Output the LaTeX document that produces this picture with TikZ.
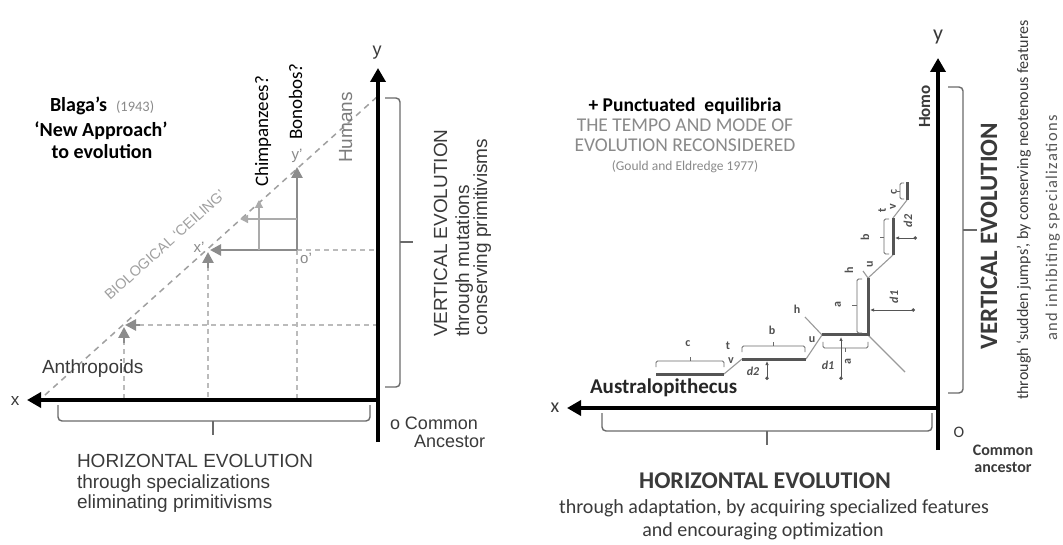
\documentclass[tikz,border=0pt]{standalone}
\usepackage{fontspec}
\setmainfont{Liberation Sans}
\newfontfamily\ls{Liberation Sans}
\newfontfamily\cb{Carlito}
\usetikzlibrary{arrows.meta}
\definecolor{cText}{HTML}{3A3A3A}
\definecolor{cGrayText}{HTML}{8A8A8A}
\definecolor{cCeil}{HTML}{A0A0A0}
\definecolor{cGrid}{HTML}{BBBBBB}
\definecolor{cArrow}{HTML}{8C8C8C}
\definecolor{cLight}{HTML}{ABABAB}
\definecolor{cStair}{HTML}{555555}
\definecolor{cThinLine}{HTML}{9A9A9A}
\definecolor{cBrace}{HTML}{6A6A6A}
\definecolor{cLab}{HTML}{505050}
\newcommand{\fsz}[1]{\fontsize{#1}{#1}\selectfont}
\begin{document}
\begin{tikzpicture}[x=1pt,y=-1pt,
  txt/.style={inner sep=0pt, outer sep=0pt},
  axisline/.style={line width=4pt, black, -{Triangle[length=14pt,width=15pt]}},
  bigbrace/.style={line width=1.4pt, draw=cBrace, rounded corners=4pt},
  smallbrace/.style={line width=0.9pt, draw=cBrace, rounded corners=1.5pt},
  gridline/.style={line width=1.2pt, draw=cGrid, dash pattern=on 5pt off 4pt},
  ceilline/.style={line width=1.5pt, draw=cCeil, dash pattern=on 6pt off 5pt},
  garrow/.style={line width=2.6pt, draw=cArrow, -{Triangle[length=11pt,width=11pt]}},
  larrow/.style={line width=1.4pt, draw=cLight, -{Triangle[length=8pt,width=8pt]}},
  stairseg/.style={line width=3pt, draw=cStair},
  stairthin/.style={line width=1.1pt, draw=cThinLine},
  darrow/.style={line width=0.9pt, draw=cStair, {Circle[length=3.5pt]}-{Latex[length=4pt,width=3.5pt]}},
  lab/.style={txt, font=\cb\bfseries\fsz{12}, text=cLab},
  ilab/.style={txt, font=\cb\bfseries\itshape\fsz{12}, text=cLab},
  lsans/.style={txt, font=\ls\fsz{19}, text=cText},
  ctxt/.style={txt, font=\cb\fsz{20}, text=cText}
]
\fill[white] (0,0) rectangle (1063,545);
\useasboundingbox (0,0) rectangle (1063,545);

% ================= LEFT PANEL =================
\coordinate (LO) at (378,400);
\coordinate (LX) at (27,400);
\coordinate (LY) at (378,68);
\coordinate (LB) at (378,442);
\coordinate (Lceil0) at (45,395);
\coordinate (Lceil1) at (378,96);
\coordinate (Oprime) at (297,250);
\coordinate (Xprime) at (210,250);
\coordinate (Yprime) at (297,167);
\coordinate (A1) at (124,327);

% ceiling and grid
\draw[ceilline] (Lceil0) -- (Lceil1);
\draw[gridline] (Oprime) -- (376,250);
\draw[gridline] (Oprime) -- (297,398);
\draw[gridline] (208,266) -- (208,398);
\draw[gridline] (124,340) -- (124,398);
\draw[gridline] (139,325) -- (376,325);

% gray arrows
\draw[garrow] (124,343) -- (A1);
\draw[garrow] (140,325) -- (125,325);
\draw[garrow] (208,268) -- (208,252);
\draw[garrow] (Oprime) -- (Xprime);
\draw[garrow] (Oprime) -- (Yprime);
\draw[larrow] (297,219) -- (240,219);
\draw[larrow] (259,250) -- (259,200);

% axes
\draw[axisline] (LB) -- (LY);
\draw[axisline] (LO) -- (LX);

% braces
\draw[bigbrace] (58,405) -- (58,421) -- (370,421) -- (370,405);
\draw[line width=1.4pt, cBrace] (213,421) -- (213,435);
\draw[bigbrace] (385,98) -- (400,98) -- (400,387) -- (385,387);
\draw[line width=1.4pt, cBrace] (400,242) -- (413,242);

% left texts
\node[txt, font=\ls\fsz{17}, text=cText] (lx) at (15,401) {x};
\node[txt, font=\ls\fsz{18}, text=cText] (ly) at (377,53) {y};
\node[lsans, anchor=base west] (hl1) at (77,467) {HORIZONTAL EVOLUTION};
\node[lsans, anchor=base west] (hl2) at (77,488) {through specializations};
\node[lsans, anchor=base west] (hl3) at (77,508) {eliminating primitivisms};
\node[lsans, rotate=90, anchor=base west] (vl1) at (447,337) {VERTICAL EVOLUTION};
\node[lsans, rotate=90, anchor=base west] (vl2) at (469,337) {through mutations};
\node[lsans, rotate=90, anchor=base west] (vl3) at (487,335) {conserving primitivisms};
\node[lsans, font=\ls\fsz{18}, anchor=base west] (ca1) at (390,429) {o Common};
\node[lsans, font=\ls\fsz{18}, anchor=base west] (ca2) at (414,447) {Ancestor};
\node[lsans, anchor=base west] (anth) at (42,373) {Anthropoids};
\node[lsans, rotate=90, anchor=base west, text=cGrayText!90!black] (humans) at (352,163) {Humans};
\node[txt, font=\cb\fsz{19}, text=black, rotate=90, anchor=base west] (chimp) at (268,187) {Chimpanzees?};
\node[txt, font=\cb\fsz{19}, text=black, rotate=90, anchor=base west] (bono) at (302,140) {Bonobos?};
\node[txt, font=\cb\bfseries\fsz{20}, anchor=base west] (blaga) at (50,112) {Blaga’s\hspace{9pt}{\mdseries\color{cGrayText}\fsz{14.5}(1943)}};
\node[txt, font=\cb\bfseries\fsz{20}, anchor=base] (newap) at (101,137) {‘New Approach’};
\node[txt, font=\cb\bfseries\fsz{20}, anchor=base] (toev) at (102,159) {to evolution};
\node[txt, font=\ls\fsz{14.5}, text=cCeil, rotate=42, anchor=base west] (ceil) at (110,301) {BIOLOGICAL ‘CEILING’};
\node[txt, font=\ls\fsz{15}, text=cGrayText] (xp) at (199,247) {x’};
\node[txt, font=\ls\fsz{15}, text=cGrayText] (yp) at (297,156) {y’};
\node[txt, font=\ls\fsz{15}, text=cGrayText] (op) at (306,258) {o’};

% ================= RIGHT PANEL =================
\coordinate (RO) at (938,408);
\coordinate (RX) at (567,408);
\coordinate (RY) at (938,58);
\coordinate (RB) at (938,450);
\draw[axisline] (RB) -- (RY);
\draw[axisline] (RO) -- (RX);

\draw[bigbrace] (602,413) -- (602,431) -- (932,431) -- (932,413);
\draw[line width=1.4pt, cBrace] (767,431) -- (767,445);
\draw[bigbrace] (948,87) -- (963,87) -- (963,393) -- (948,393);
\draw[line width=1.4pt, cBrace] (963,230) -- (977,230);

% staircase points
\coordinate (s1) at (656,374);
\coordinate (s2) at (724,374);
\coordinate (s3) at (742,359);
\coordinate (s4) at (806,359);
\coordinate (s5) at (822,335);
\coordinate (s6) at (868,335);
\coordinate (s7) at (868,278);
\coordinate (s8) at (893,255);
\coordinate (s9) at (893,218);
\coordinate (s10) at (907,200);
\coordinate (s11) at (907,182);

\draw[stairthin] (s2) -- (s3);
\draw[stairthin] (s4) -- (s5);
\draw[stairthin] (s5) -- (805,317);
\draw[stairthin] (s6) -- (905,372);
\draw[stairthin] (s7) -- (863,271);
\draw[stairthin] (s7) -- (s8);
\draw[stairthin] (s9) -- (s10);
\draw[stairseg] (s1) -- (s2);
\draw[stairseg] (s3) -- (s4);
\draw[stairseg] (s5) -- (s6) -- (s7);
\draw[stairseg] (s8) -- (s9);
\draw[stairseg] (s10) -- (s11);

% small braces
\draw[smallbrace] (656,367) -- (656,361) -- (724,361) -- (724,367);
\draw[line width=0.9pt, cBrace] (690,361) -- (690,357);
\draw[smallbrace] (742,352) -- (742,346) -- (805,346) -- (805,352);
\draw[line width=0.9pt, cBrace] (773,346) -- (773,342);
\draw[smallbrace] (823,342) -- (823,348) -- (868,348) -- (868,342);
\draw[line width=0.9pt, cBrace] (845,348) -- (845,352);
\draw[smallbrace] (862,279) -- (857,279) -- (857,333) -- (862,333);
\draw[line width=0.9pt, cBrace] (857,305) -- (852,305);
\draw[smallbrace] (889,219) -- (884,219) -- (884,254) -- (889,254);
\draw[line width=0.9pt, cBrace] (884,237) -- (880,237);
\draw[smallbrace] (904,183) -- (900,183) -- (900,199) -- (904,199);
\draw[line width=0.9pt, cBrace] (900,191) -- (897,191);

% distance arrows
\draw[darrow] (767,380) -- (767,361);
\draw[darrow] (841,380) -- (841,337);
\draw[darrow] (915,310) -- (870,310);
\draw[darrow] (917,238) -- (895,238);

% stair labels
\node[lab] (lc) at (688,344) {c};
\node[lab] (lt) at (728,346) {t};
\node[lab] (lv) at (731,361) {v};
\node[lab] (lb) at (772,330) {b};
\node[lab] (lu) at (812,340) {u};
\node[lab] (lh) at (797,309) {h};
\node[ilab] (ld2) at (753,371) {d2};
\node[ilab] (ld1) at (828,365) {d1};
\node[lab, rotate=90] (la) at (848,362) {a};
\node[lab, rotate=90] (ua) at (838,305) {a};
\node[lab, rotate=90] (uh) at (849,270) {h};
\node[lab, rotate=90] (uu) at (870,264) {u};
\node[ilab, rotate=90] (ud1) at (894,297) {d1};
\node[lab, rotate=90] (ub) at (865,237) {b};
\node[ilab, rotate=90] (ud2) at (908,221) {d2};
\node[lab, rotate=90] (ut) at (882,210) {t};
\node[lab, rotate=90] (uv) at (893,207) {v};
\node[lab, rotate=90] (uc) at (894,192) {c};

% right texts
\node[txt, font=\cb\bfseries\fsz{19.5}, text=black, anchor=base] (pe) at (685,112) {+ Punctuated\ \ equilibria};
\node[txt, font=\cb\fsz{19.5}, text=cGrayText, anchor=base] (tm1) at (685,132) {THE TEMPO AND MODE OF};
\node[txt, font=\cb\fsz{19.5}, text=cGrayText, anchor=base] (tm2) at (685,152) {EVOLUTION RECONSIDERED};
\node[txt, font=\cb\fsz{13.5}, text=cGrayText, anchor=base] (ge) at (685,171) {(Gould and Eldredge 1977)};
\node[txt, font=\cb\bfseries\fsz{17}, text=cText, rotate=90, anchor=base west] (homo) at (930,128) {Homo};
\node[txt, font=\cb\fsz{22}, text=cText] (ry) at (938,37) {y};
\node[txt, font=\cb\fsz{20}, text=cText] (rx) at (555,408) {x};
\node[txt, font=\cb\fsz{16}, text=cText] (ro) at (959,432) {O};
\node[txt, font=\cb\bfseries\fsz{16}, text=cText, anchor=base] (rc1) at (1003,455) {Common};
\node[txt, font=\cb\bfseries\fsz{16}, text=cText, anchor=base] (rc2) at (1003,472) {ancestor};
\node[txt, font=\cb\bfseries\fsz{21}, text=black!85, anchor=base west] (aus) at (590,393) {Australopithecus};
\node[txt, font=\cb\bfseries\fsz{24}, text=cText, anchor=base] (hr1) at (765,488) {HORIZONTAL EVOLUTION};
\node[ctxt, anchor=base] (hr2) at (774,513) {through adaptation, by acquiring specialized features};
\node[ctxt, anchor=base] (hr3) at (763,536) {and encouraging optimization};
\node[txt, font=\cb\bfseries\fsz{25}, text=cText, rotate=90, anchor=base] (vr1) at (997,236) {VERTICAL EVOLUTION};
\node[txt, font=\cb\fsz{16}, text=cText, rotate=90, anchor=base] (vr2) at (1028,210) {through ‘sudden jumps’, by conserving neotenous features};
\node[txt, font=\cb\fsz{16.5}\addfontfeature{LetterSpace=8}, text=cText!85, rotate=90, anchor=base] (vr3) at (1057,228) {and inhibiting specializations};
\end{tikzpicture}
\end{document}
